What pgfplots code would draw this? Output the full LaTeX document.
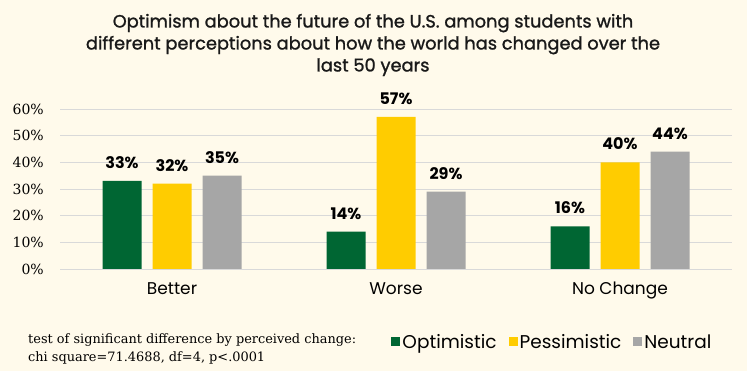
\documentclass[border=0pt]{standalone}
\usepackage{fontspec}
\usepackage{pgfplots}
\pgfplotsset{compat=1.18}
\newfontfamily\titlefont[FakeBold=1.2]{Poppins}
\newfontfamily\pop{Poppins}
\newfontfamily\tickfont{DejaVu Serif}
\newfontfamily\notefont{DejaVu Serif}
\definecolor{bgc}{HTML}{FFFAEB}
\definecolor{gOpt}{HTML}{006633}
\definecolor{yPes}{HTML}{FFCC00}
\definecolor{gNeu}{HTML}{A6A6A6}
\definecolor{gridc}{HTML}{D9D9D9}
\begin{document}
\begin{tikzpicture}
\path[use as bounding box] (0pt,0pt) rectangle (747pt,371pt);
\fill[bgc] (0pt,0pt) rectangle (747pt,371pt);
\node[font=\titlefont\fontsize{17.8}{22}\selectfont, align=center, text=black!90] at (373pt,326pt) {Optimism about the future of the U.S. among students with\\different perceptions about how the world has changed over the\\last 50 years};
\node[font=\notefont\fontsize{12.9}{18}\selectfont, align=left, anchor=north west, inner sep=0pt] at (28pt,37.5pt) {test of significant difference by perceived change:\\chi square=71.4688, df=4, p<.0001};
\begin{axis}[
  at={(60pt,102pt)}, anchor=south west, scale only axis,
  width=672pt, height=160pt,
  xmin=-0.5, xmax=2.5, ymin=0, ymax=60,
  /pgf/number format/assume math mode=true,
  ytick={0,10,...,60},
  yticklabel={\pgfmathprintnumber{\tick}\%},
  yticklabel style={font=\tickfont\fontsize{14}{16}\selectfont, anchor=east, inner sep=0pt, xshift=-16pt},
  xtick={0,1,2},
  xticklabels={Better,Worse,No Change},
  xticklabel style={font=\pop\fontsize{17}{19}\selectfont, anchor=north, inner sep=0pt, yshift=-13pt},
  ymajorgrids, grid style={draw=gridc, line width=0.8pt},
  axis line style={draw=none},
  major tick length=0pt,
  ybar, bar width=39pt,
  nodes near coords={\pgfmathprintnumber{\pgfplotspointmeta}\%},
  every node near coord/.append style={font=\pop\bfseries\fontsize{16}{18}\selectfont, text=black, anchor=south, inner sep=0pt, yshift=12pt},
  legend columns=3,
  legend style={at={(0.493,-0.456)}, anchor=west, draw=none, fill=none, inner sep=0pt, font=\pop\fontsize{18.5}{19}\selectfont, /tikz/every even column/.append style={column sep=10pt}, /tikz/every odd column/.append style={column sep=0pt}},
  legend image code/.code={\fill[#1] (0pt,-4.5pt) rectangle (9pt,4.5pt);},
]
\addplot[fill=gOpt, draw=none, bar shift=-50pt] coordinates {(0,33) (1,14) (2,16)};
\addplot[fill=yPes, draw=none, bar shift=0pt] coordinates {(0,32) (1,57) (2,40)};
\addplot[fill=gNeu, draw=none, bar shift=50pt] coordinates {(0,35) (1,29) (2,44)};
\legend{Optimistic,Pessimistic,Neutral}
\end{axis}
\end{tikzpicture}
\end{document}
